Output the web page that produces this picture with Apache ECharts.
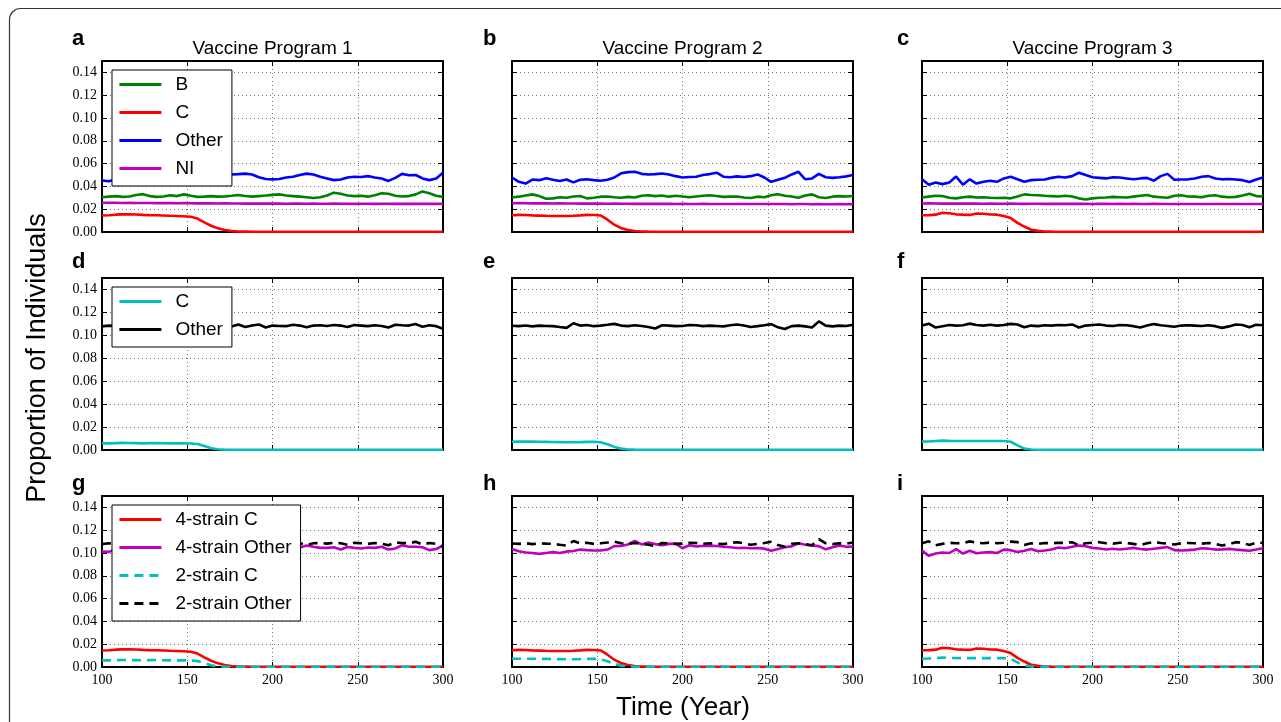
<!DOCTYPE html>
<html>
<head>
<meta charset="utf-8">
<script src="https://cdn.jsdelivr.net/npm/echarts@6/dist/echarts.min.js"></script>
<style>
  html, body { margin: 0; padding: 0; background: #fff; }
  #chart { width: 1281px; height: 722px; }
</style>
</head>
<body>
<div id="chart"></div>
<script>
// ---- Time axis (years), sampled every 4 years ----
const years = [
  100,104,108,112,116,120,124,128,132,136,
  140,144,148,152,156,160,164,168,172,176,
  180,184,188,192,196,200,204,208,212,216,
  220,224,228,232,236,240,244,248,252,256,
  260,264,268,272,276,280,284,288,292,296,
  300
];

const programTitles = ['Vaccine Program 1', 'Vaccine Program 2', 'Vaccine Program 3'];
const panelLetters = ['a','b','c','d','e','f','g','h','i'];
const yTickStep = 0.02;
const xTickStep = 50;

// ---- 4-strain model: serogroups B, C, Other, NI (panels a-c) ----
const bProg1 = [
  .0305,.0310,.0315,.0308,.0312,.0325,.0332,.0315,.0308,.0312,
  .0322,.0315,.0330,.0318,.0308,.0310,.0315,.0310,.0312,.0318,
  .0325,.0316,.0310,.0315,.0320,.0326,.0330,.0320,.0315,.0310,
  .0305,.0298,.0305,.0320,.0345,.0335,.0320,.0315,.0318,.0310,
  .0322,.0340,.0335,.0318,.0312,.0315,.0330,.0356,.0340,.0318,
  .0308
];
const cProg1 = [
  .0145,.0147,.0152,.0155,.0155,.0153,.0150,.0148,.0147,.0145,
  .0142,.0140,.0138,.0134,.0118,.0085,.0055,.0032,.0017,.0008,
  .0004,.0003,.0002,.0002,.0002,.0002,.0002,.0002,.0002,.0002,
  .0002,.0002,.0002,.0002,.0002,.0002,.0002,.0002,.0002,.0002,
  .0002,.0002,.0002,.0002,.0002,.0002,.0002,.0002,.0002,.0002,
  .0002
];
const otherProg1 = [
  .0452,.0445,.0460,.0470,.0465,.0478,.0470,.0462,.0475,.0483,
  .0478,.0470,.0480,.0490,.0485,.0495,.0500,.0492,.0498,.0505,
  .0508,.0512,.0505,.0480,.0465,.0462,.0465,.0478,.0485,.0500,
  .0512,.0505,.0485,.0470,.0455,.0460,.0478,.0485,.0482,.0490,
  .0478,.0470,.0448,.0475,.0510,.0498,.0500,.0470,.0455,.0470,
  .0520
];
const niProg1 = [
  .0257,.0256,.0257,.0255,.0256,.0255,.0254,.0255,.0253,.0254,
  .0253,.0252,.0253,.0252,.0251,.0252,.0251,.0250,.0251,.0250,
  .0250,.0249,.0250,.0249,.0249,.0250,.0249,.0248,.0249,.0249,
  .0248,.0249,.0248,.0248,.0249,.0248,.0248,.0247,.0248,.0248,
  .0247,.0248,.0248,.0247,.0248,.0247,.0248,.0247,.0248,.0247,
  .0248
];

const bProg2 = [
  .0302,.0310,.0320,.0330,.0315,.0292,.0295,.0305,.0300,.0312,
  .0316,.0295,.0300,.0310,.0312,.0305,.0300,.0308,.0302,.0318,
  .0322,.0315,.0320,.0310,.0318,.0312,.0305,.0312,.0318,.0322,
  .0316,.0308,.0310,.0312,.0302,.0298,.0310,.0305,.0322,.0332,
  .0318,.0312,.0300,.0320,.0330,.0305,.0298,.0310,.0315,.0312,
  .0316
];
const cProg2 = [
  .0147,.0150,.0149,.0146,.0144,.0142,.0141,.0140,.0141,.0143,
  .0146,.0150,.0149,.0145,.0108,.0064,.0034,.0018,.0009,.0005,
  .0003,.0002,.0002,.0002,.0002,.0002,.0002,.0002,.0002,.0002,
  .0002,.0002,.0002,.0002,.0002,.0002,.0002,.0002,.0002,.0002,
  .0002,.0002,.0002,.0002,.0002,.0002,.0002,.0002,.0002,.0002,
  .0002
];
const otherProg2 = [
  .0478,.0440,.0425,.0460,.0455,.0472,.0458,.0448,.0460,.0435,
  .0458,.0462,.0455,.0450,.0458,.0478,.0515,.0525,.0528,.0510,
  .0505,.0508,.0513,.0505,.0490,.0478,.0482,.0485,.0500,.0508,
  .0520,.0485,.0480,.0488,.0482,.0490,.0505,.0478,.0440,.0458,
  .0475,.0505,.0528,.0462,.0470,.0510,.0480,.0475,.0480,.0488,
  .0500
];
const niProg2 = [
  .0252,.0253,.0252,.0251,.0252,.0251,.0250,.0251,.0250,.0250,
  .0249,.0250,.0249,.0249,.0248,.0249,.0248,.0248,.0247,.0248,
  .0247,.0247,.0248,.0247,.0246,.0247,.0246,.0246,.0247,.0246,
  .0246,.0245,.0246,.0246,.0245,.0246,.0245,.0245,.0246,.0245,
  .0245,.0244,.0245,.0245,.0244,.0245,.0244,.0244,.0245,.0244,
  .0244
];

const bProg3 = [
  .0302,.0310,.0318,.0315,.0300,.0295,.0305,.0310,.0302,.0305,
  .0300,.0298,.0300,.0295,.0312,.0330,.0325,.0322,.0318,.0315,
  .0312,.0318,.0312,.0295,.0285,.0295,.0300,.0302,.0308,.0305,
  .0302,.0310,.0318,.0325,.0310,.0305,.0300,.0318,.0322,.0312,
  .0310,.0305,.0318,.0322,.0310,.0305,.0308,.0320,.0335,.0315,
  .0312
];
const cProg3 = [
  .0147,.0148,.0152,.0168,.0165,.0155,.0152,.0150,.0162,.0160,
  .0153,.0152,.0140,.0122,.0080,.0048,.0020,.0010,.0005,.0003,
  .0002,.0002,.0002,.0002,.0002,.0002,.0002,.0002,.0002,.0002,
  .0002,.0002,.0002,.0002,.0002,.0002,.0002,.0002,.0002,.0002,
  .0002,.0002,.0002,.0002,.0002,.0002,.0002,.0002,.0002,.0002,
  .0002
];
const otherProg3 = [
  .0463,.0415,.0435,.0420,.0435,.0486,.0415,.0462,.0425,.0440,
  .0450,.0440,.0470,.0485,.0462,.0440,.0455,.0458,.0460,.0475,
  .0485,.0478,.0490,.0520,.0500,.0480,.0475,.0470,.0480,.0478,
  .0470,.0462,.0470,.0475,.0450,.0490,.0510,.0458,.0460,.0462,
  .0470,.0485,.0490,.0470,.0462,.0465,.0460,.0455,.0438,.0460,
  .0478
];
const niProg3 = [
  .0250,.0251,.0250,.0249,.0250,.0249,.0250,.0249,.0249,.0248,
  .0249,.0248,.0248,.0249,.0248,.0247,.0248,.0248,.0247,.0248,
  .0247,.0247,.0248,.0247,.0247,.0246,.0247,.0247,.0246,.0247,
  .0246,.0247,.0246,.0246,.0247,.0246,.0246,.0245,.0246,.0246,
  .0245,.0246,.0246,.0245,.0246,.0245,.0246,.0245,.0245,.0246,
  .0245
];

// ---- 2-strain model: C and Other (panels d-f) ----
const c2Prog1 = [
  .0058,.0058,.0060,.0062,.0061,.0060,.0058,.0060,.0061,.0059,
  .0058,.0058,.0058,.0057,.0052,.0035,.0015,.0006,.0003,.0002,
  .0002,.0002,.0002,.0002,.0002,.0002,.0002,.0002,.0002,.0002,
  .0002,.0002,.0002,.0002,.0002,.0002,.0002,.0002,.0002,.0002,
  .0002,.0002,.0002,.0002,.0002,.0002,.0002,.0002,.0002,.0002,
  .0002
];
const other2Prog1 = [
  .1078,.1085,.1080,.1090,.1082,.1078,.1088,.1085,.1080,.1092,
  .1085,.1078,.1083,.1090,.1082,.1085,.1080,.1088,.1082,.1078,
  .1095,.1072,.1085,.1095,.1068,.1085,.1082,.1080,.1092,.1085,
  .1070,.1085,.1088,.1082,.1090,.1085,.1072,.1090,.1085,.1080,
  .1088,.1082,.1068,.1092,.1088,.1085,.1098,.1075,.1088,.1080,
  .1058
];
const c2Prog2 = [
  .0072,.0073,.0073,.0073,.0072,.0071,.0070,.0069,.0068,.0068,
  .0069,.0071,.0072,.0068,.0050,.0027,.0012,.0005,.0003,.0002,
  .0002,.0002,.0002,.0002,.0002,.0002,.0002,.0002,.0002,.0002,
  .0002,.0002,.0002,.0002,.0002,.0002,.0002,.0002,.0002,.0002,
  .0002,.0002,.0002,.0002,.0002,.0002,.0002,.0002,.0002,.0002,
  .0002
];
const other2Prog2 = [
  .1084,.1080,.1086,.1078,.1085,.1082,.1080,.1072,.1065,.1105,
  .1085,.1090,.1080,.1085,.1092,.1100,.1085,.1080,.1088,.1082,
  .1072,.1060,.1088,.1085,.1080,.1082,.1090,.1088,.1080,.1085,
  .1082,.1078,.1088,.1095,.1085,.1072,.1080,.1088,.1098,.1070,
  .1055,.1080,.1085,.1078,.1068,.1122,.1085,.1078,.1085,.1082,
  .1092
];
const c2Prog3 = [
  .0073,.0074,.0078,.0082,.0080,.0079,.0078,.0078,.0078,.0078,
  .0078,.0078,.0078,.0072,.0040,.0012,.0004,.0002,.0002,.0002,
  .0002,.0002,.0002,.0002,.0002,.0002,.0002,.0002,.0002,.0002,
  .0002,.0002,.0002,.0002,.0002,.0002,.0002,.0002,.0002,.0002,
  .0002,.0002,.0002,.0002,.0002,.0002,.0002,.0002,.0002,.0002,
  .0002
];
const other2Prog3 = [
  .1085,.1102,.1068,.1080,.1090,.1085,.1088,.1102,.1090,.1085,
  .1092,.1085,.1090,.1100,.1095,.1070,.1085,.1080,.1088,.1085,
  .1090,.1088,.1095,.1068,.1085,.1090,.1095,.1085,.1082,.1090,
  .1088,.1080,.1068,.1085,.1098,.1088,.1082,.1075,.1085,.1088,
  .1085,.1082,.1088,.1080,.1065,.1078,.1095,.1090,.1070,.1092,
  .1088
];

// ---- 4-strain model, all non-C serogroups combined (panels g-i) ----
const other4Prog1 = [
  .1012,.1010,.1030,.1035,.1030,.1055,.1052,.1030,.1035,.1050,
  .1055,.1025,.1050,.1040,.1030,.1040,.1050,.1045,.1050,.1060,
  .1070,.1065,.1055,.1035,.1035,.1040,.1045,.1045,.1050,.1048,
  .1065,.1055,.1045,.1045,.1050,.1030,.1052,.1045,.1040,.1048,
  .1045,.1055,.1030,.1040,.1068,.1055,.1055,.1050,.1025,.1035,
  .1065
];
const other4Prog2 = [
  .1035,.1015,.1005,.1000,.0992,.1000,.1008,.1000,.1012,.1018,
  .1030,.1025,.1022,.1022,.1030,.1060,.1062,.1075,.1105,.1075,
  .1092,.1078,.1068,.1080,.1082,.1042,.1068,.1058,.1062,.1065,
  .1062,.1055,.1050,.1044,.1046,.1042,.1044,.1038,.1020,.1035,
  .1050,.1058,.1085,.1072,.1065,.1060,.1032,.1050,.1065,.1055,
  .1056
];
const other4Prog3 = [
  .1021,.0975,.0995,.1005,.1000,.1035,.0995,.1020,.0998,.1005,
  .1008,.1000,.1030,.1025,.1008,.1020,.1035,.1015,.1022,.1030,
  .1048,.1042,.1055,.1065,.1060,.1045,.1040,.1030,.1038,.1030,
  .1038,.1045,.1035,.1030,.1038,.1045,.1052,.1025,.1022,.1025,
  .1030,.1042,.1038,.1030,.1032,.1036,.1030,.1025,.1020,.1030,
  .1042
];

// ---- Styling & layout ----
const GREEN = '#008000', RED = '#ff0000', BLUE = '#0000ff',
      MAGENTA = '#bf00bf', CYAN = '#00bfbf', BLACK = '#000000';
const SANS = '"Liberation Sans", Arial, Helvetica, sans-serif';
const SERIF = '"Liberation Serif", "Times New Roman", serif';
const DASH = [9, 6];

const colLeft = [102, 512, 922];
const rowTop = [61, 278, 496];
const rowHeight = [171, 172, 171];
const plotWidth = 341;

// legend labels keyed by series name
const legendLabel = {
  'B': 'B', 'C': 'C', 'Other': 'Other', 'NI': 'NI',
  'C (2-strain)': 'C', 'Other (2-strain)': 'Other',
  '4-strain C': '4-strain C', '4-strain Other': '4-strain Other',
  '2-strain C': '2-strain C', '2-strain Other': '2-strain Other'
};

function row1(b, c, o, n) {
  return [
    { name: 'B', data: b, color: GREEN },
    { name: 'C', data: c, color: RED },
    { name: 'Other', data: o, color: BLUE },
    { name: 'NI', data: n, color: MAGENTA }
  ];
}
function row2(c, o) {
  return [
    { name: 'C (2-strain)', data: c, color: CYAN },
    { name: 'Other (2-strain)', data: o, color: BLACK }
  ];
}
function row3(c4, o4, c2, o2) {
  return [
    { name: '4-strain C', data: c4, color: RED },
    { name: '4-strain Other', data: o4, color: MAGENTA },
    { name: '2-strain C', data: c2, color: CYAN, dash: true },
    { name: '2-strain Other', data: o2, color: BLACK, dash: true }
  ];
}

const panels = [
  { row: 0, col: 0, lines: row1(bProg1, cProg1, otherProg1, niProg1), legend: true },
  { row: 0, col: 1, lines: row1(bProg2, cProg2, otherProg2, niProg2) },
  { row: 0, col: 2, lines: row1(bProg3, cProg3, otherProg3, niProg3) },
  { row: 1, col: 0, lines: row2(c2Prog1, other2Prog1), legend: true },
  { row: 1, col: 1, lines: row2(c2Prog2, other2Prog2) },
  { row: 1, col: 2, lines: row2(c2Prog3, other2Prog3) },
  { row: 2, col: 0, lines: row3(cProg1, other4Prog1, c2Prog1, other2Prog1), legend: true },
  { row: 2, col: 1, lines: row3(cProg2, other4Prog2, c2Prog2, other2Prog2) },
  { row: 2, col: 2, lines: row3(cProg3, other4Prog3, c2Prog3, other2Prog3) }
];

const grid = [], xAxis = [], yAxis = [], series = [], legend = [];

const tickStyle = { show: true, inside: true, length: 5, lineStyle: { color: '#000', width: 1 } };
const frameLine = { show: true, onZero: false, lineStyle: { color: '#000', width: 2 } };
const dotted = { show: true, lineStyle: { color: '#777', width: 1, type: [1, 3] } };

panels.forEach((p, i) => {
  grid.push({
    left: colLeft[p.col], top: rowTop[p.row],
    width: plotWidth, height: rowHeight[p.row],
    containLabel: false
  });
  const xBase = { type: 'value', gridIndex: i, min: 100, max: 300, interval: xTickStep };
  const yBase = { type: 'value', gridIndex: i, min: 0, max: 0.15, interval: yTickStep };
  xAxis.push(Object.assign({}, xBase, {
    position: 'bottom', axisLine: frameLine, axisTick: tickStyle, splitLine: dotted,
    axisLabel: {
      show: p.row === 2, margin: 6, color: '#000', fontFamily: SERIF, fontSize: 14,
      formatter: v => String(v)
    }
  }));
  xAxis.push(Object.assign({}, xBase, {
    position: 'top', axisLine: frameLine, axisTick: tickStyle,
    splitLine: { show: false }, axisLabel: { show: false }
  }));
  yAxis.push(Object.assign({}, yBase, {
    position: 'left', axisLine: frameLine, axisTick: tickStyle, splitLine: dotted,
    axisLabel: {
      show: p.col === 0, margin: 5, color: '#000', fontFamily: SERIF, fontSize: 14,
      showMaxLabel: false, formatter: v => v.toFixed(2)
    }
  }));
  yAxis.push(Object.assign({}, yBase, {
    position: 'right', axisLine: frameLine, axisTick: tickStyle,
    splitLine: { show: false }, axisLabel: { show: false }
  }));

  p.lines.forEach(l => {
    series.push({
      type: 'line', name: l.name,
      xAxisIndex: 2 * i, yAxisIndex: 2 * i,
      data: years.map((yr, k) => [yr, l.data[k]]),
      symbol: 'none', showSymbol: false, clip: true,
      lineStyle: { color: l.color, width: 2.6, type: l.dash ? DASH : 'solid' },
      itemStyle: { color: l.color },
      emphasis: { disabled: true }
    });
  });

  if (p.legend) {
    legend.push({
      orient: 'vertical',
      left: colLeft[p.col] + 10, top: rowTop[p.row] + 9,
      data: p.lines.map(l => l.name),
      formatter: n => legendLabel[n] || n,
      itemWidth: 42, itemHeight: 19, itemGap: 9,
      padding: [5, 9, 8, 6],
      backgroundColor: '#fff', borderColor: '#000', borderWidth: 1, borderRadius: 0,
      selectedMode: false,
      itemStyle: { opacity: 0 },
      lineStyle: { width: 2.8 },
      textStyle: { fontFamily: SANS, fontSize: 19, color: '#000', padding: [0, 0, 0, 9] }
    });
  }
});

// ---- Text annotations ----
const graphic = [
  {
    type: 'rect', silent: true, z: -10,
    shape: { x: 9.5, y: 8.5, width: 1300, height: 760, r: 11 },
    style: { fill: 'transparent', stroke: '#333', lineWidth: 1.2 }
  },
  {
    type: 'text', x: 38, y: 358, rotation: Math.PI / 2, silent: true,
    style: { text: 'Proportion of Individuals', font: '27px ' + SANS, fill: '#000', align: 'center', verticalAlign: 'middle' }
  },
  {
    type: 'text', x: 683, y: 708, silent: true,
    style: { text: 'Time (Year)', font: '26px ' + SANS, fill: '#000', align: 'center', verticalAlign: 'middle' }
  }
];
programTitles.forEach((t, c) => {
  graphic.push({
    type: 'text', x: colLeft[c] + plotWidth / 2, y: 48.5, silent: true,
    style: { text: t, font: '19px ' + SANS, fill: '#000', align: 'center', verticalAlign: 'middle' }
  });
});
const letterX = [72, 483, 897];
const letterY = [39, 262, 484];
panels.forEach((p, i) => {
  graphic.push({
    type: 'text', x: letterX[p.col], y: letterY[p.row], silent: true,
    style: { text: panelLetters[i], font: 'bold 22px ' + SANS, fill: '#000', align: 'left', verticalAlign: 'middle' }
  });
});

const chart = echarts.init(document.getElementById('chart'), null, { renderer: 'canvas' });
chart.setOption({
  animation: false,
  backgroundColor: '#fff',
  grid, xAxis, yAxis, series, legend, graphic
});
</script>
</body>
</html>
